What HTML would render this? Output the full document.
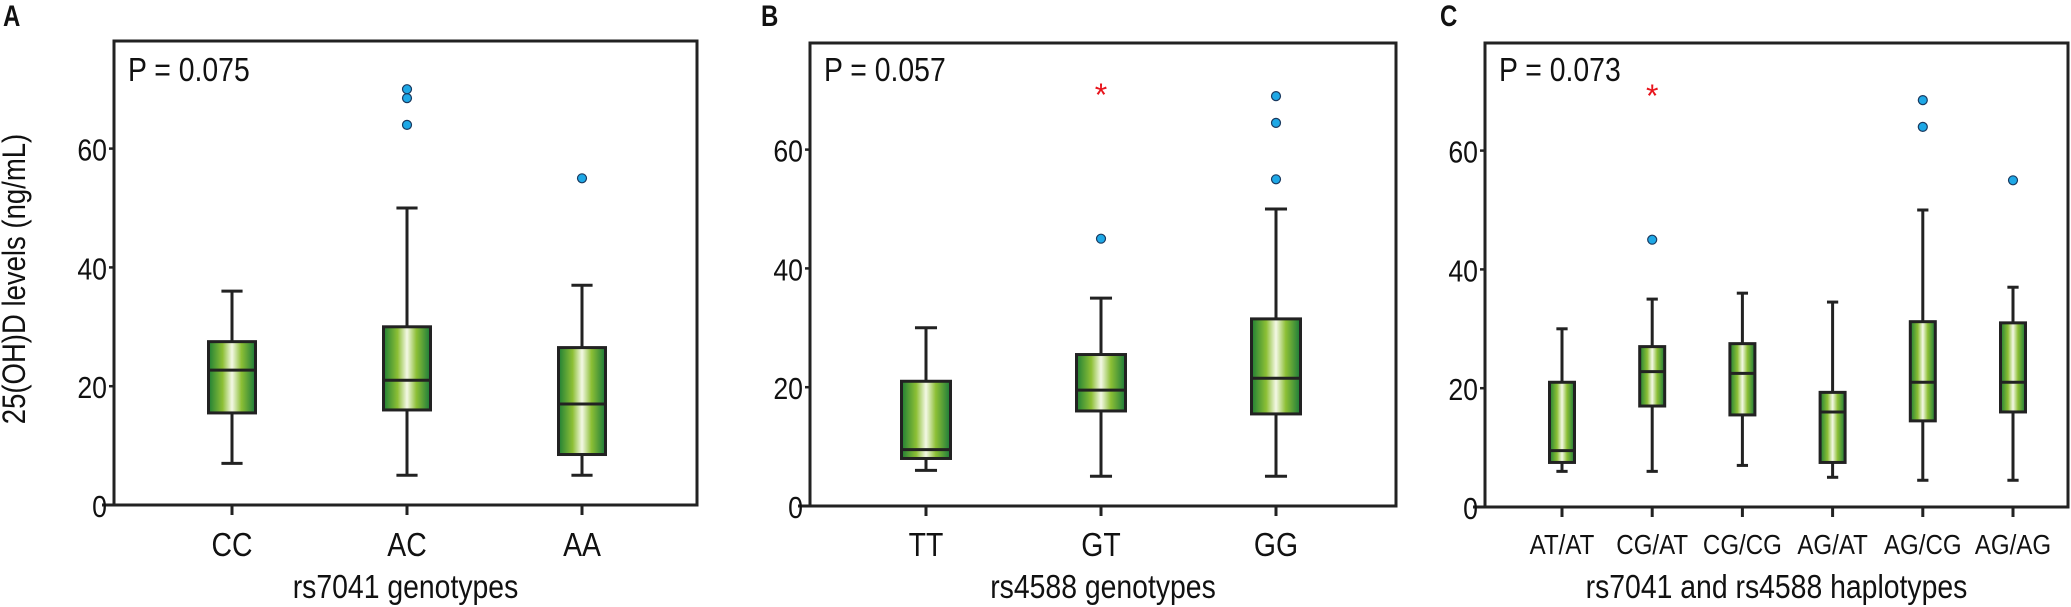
<!DOCTYPE html>
<html><head><meta charset="utf-8"><style>
html,body{margin:0;padding:0;background:#fff;}
svg{display:block;}
text{font-family:"Liberation Sans",sans-serif;}
</style></head><body>
<svg id="chart" width="2071" height="607" viewBox="0 0 2071 607" xmlns="http://www.w3.org/2000/svg">
<defs>
<linearGradient id="boxgrad" x1="0" x2="1" y1="0" y2="0">
<stop offset="0" stop-color="#1f7f35"/>
<stop offset="0.3" stop-color="#8cbf35"/>
<stop offset="0.5" stop-color="#f4f8e6"/>
<stop offset="0.7" stop-color="#8cbf35"/>
<stop offset="1" stop-color="#1a7a3a"/>
</linearGradient>
</defs>
</svg>
<script>
// Panel A data
const catsA = ["CC","AC","AA"];
const loA = [7, 5, 5];
const q1A = [15.5, 16, 8.5];
const medA = [22.7, 21, 17];
const q3A = [27.5, 30, 26.5];
const hiA = [36, 50, 37];
const outA = [[], [64, 68.5, 70], [55]];
// Panel B data
const catsB = ["TT","GT","GG"];
const loB = [6, 5, 5];
const q1B = [8, 16, 15.5];
const medB = [9.5, 19.5, 21.5];
const q3B = [21, 25.5, 31.5];
const hiB = [30, 35, 50];
const outB = [[], [45], [55, 64.5, 69]];
const starB = [null, 70, null];
// Panel C data
const catsC = ["AT/AT","CG/AT","CG/CG","AG/AT","AG/CG","AG/AG"];
const loC = [6, 6, 7, 5, 4.5, 4.5];
const q1C = [7.5, 17, 15.5, 7.5, 14.5, 16];
const medC = [9.5, 22.8, 22.5, 16, 21, 21];
const q3C = [21, 27, 27.5, 19.3, 31.2, 31];
const hiC = [30, 35, 36, 34.5, 50, 37];
const outC = [[], [45], [], [], [64, 68.5], [55]];
const starC = [null, 70, null, null, null, null];
const yTicks = [0, 20, 40, 60];

const NS = "http://www.w3.org/2000/svg";
const svg = document.getElementById('chart');
function el(tag, attrs, parent) {
  const e = document.createElementNS(NS, tag);
  for (const k in attrs) e.setAttribute(k, attrs[k]);
  (parent || svg).appendChild(e);
  return e;
}
function txt(x, y, s, size, anchor, parent, sx, weight, fill) {
  const g = el('g', {transform: `translate(${x},${y}) scale(${sx||0.86},1)`}, parent);
  const t = el('text', {x: 0, y: 0, 'font-size': size, 'text-anchor': anchor || 'middle'}, g);
  if (weight) t.setAttribute('font-weight', weight);
  t.style.fill = fill || '#111';
  t.textContent = s;
  return t;
}

function panel(cfg) {
  const g = el('g', {});
  
  
  const {L, R, T, B, cats, lo, q1, med, q3, hi, out, star, boxW, xs} = cfg;
  const yy = v => B - v * 5.94;
  const x = i => xs[0] + i * (xs[1] - xs[0]);
  const fr = el('rect', {x: L, y: T, width: R - L, height: B - T, fill: 'none', stroke: '#222', 'stroke-width': 3}, g);
  
  
  el('line', {x1: L - 12, x2: L, y1: B, y2: B, stroke: '#222', 'stroke-width': 3}, g);
  const lt = txt(cfg.letterX, 26, cfg.letter, 30, 'start', g, 0.8, 'bold');
  
  
  yTicks.forEach(v => {
    el('line', {x1: L - 5, x2: L, y1: yy(v), y2: yy(v), stroke: '#222', 'stroke-width': 2.5}, g);
    const t = txt(L - 7, yy(v) + 12, String(v), 31, 'end', g);
    
    
  });
  const p = txt(L + 14, 81, cfg.p, 33, 'start', g);
  
  
  cats.forEach((c, i) => {
    const cx = x(i);
    el('line', {x1: cx, x2: cx, y1: B, y2: B + 10, stroke: '#222', 'stroke-width': 3}, g);
    const lab = txt(cx, cfg.labY, c, cfg.labSize, 'middle', g);
    
    
    const bg = el('g', {}, g);
    
    
    const cap = boxW * 0.45;
    el('line', {x1: cx, x2: cx, y1: yy(hi[i]), y2: yy(lo[i]), stroke: '#222', 'stroke-width': 3}, bg);
    el('line', {x1: cx - cap / 2, x2: cx + cap / 2, y1: yy(hi[i]), y2: yy(hi[i]), stroke: '#222', 'stroke-width': 3}, bg);
    el('line', {x1: cx - cap / 2, x2: cx + cap / 2, y1: yy(lo[i]), y2: yy(lo[i]), stroke: '#222', 'stroke-width': 3}, bg);
    el('rect', {x: cx - boxW / 2, y: yy(q3[i]), width: boxW, height: yy(q1[i]) - yy(q3[i]), fill: 'url(#boxgrad)', stroke: '#222', 'stroke-width': 3}, bg);
    el('line', {x1: cx - boxW / 2, x2: cx + boxW / 2, y1: yy(med[i]), y2: yy(med[i]), stroke: '#222', 'stroke-width': 3}, bg);
    out[i].forEach(v => {
      const o = el('circle', {cx: cx, cy: yy(v), r: 4.5, fill: '#1ea8e6', stroke: '#1a3a60', 'stroke-width': 1.2}, g);
      
      
    });
    if (star && star[i] != null) {
      const s = txt(cx, yy(star[i]) + 16, '*', 32, 'middle', g, 1, 'normal', '#e8141c');
      
      
    }
  });
  const xt = txt((L + R) / 2, 598, cfg.xtitle, 33, 'middle', g);
  
  
}

panel({letter: 'A', letterX: 3, L: 114, R: 697, T: 41, B: 505, cats: catsA, lo: loA, q1: q1A, med: medA, q3: q3A, hi: hiA, out: outA, star: null, boxW: 47, xs: [232, 407], p: 'P = 0.075', xtitle: 'rs7041 genotypes', labY: 556, labSize: 33});
panel({letter: 'B', letterX: 761, L: 810, R: 1396, T: 43, B: 506, cats: catsB, lo: loB, q1: q1B, med: medB, q3: q3B, hi: hiB, out: outB, star: starB, boxW: 49, xs: [926, 1101], p: 'P = 0.057', xtitle: 'rs4588 genotypes', labY: 556, labSize: 33});
panel({letter: 'C', letterX: 1440, L: 1485, R: 2068, T: 43, B: 507, cats: catsC, lo: loC, q1: q1C, med: medC, q3: q3C, hi: hiC, out: outC, star: starC, boxW: 25, xs: [1562, 1652.2], p: 'P = 0.073', xtitle: 'rs7041 and rs4588 haplotypes', labY: 554, labSize: 28});

const yt = el('text', {x: 0, y: 0, 'font-size': 32, 'text-anchor': 'middle', transform: 'translate(25,279) rotate(-90) scale(0.86,1)'});
yt.style.fill = '#111';
yt.textContent = '25(OH)D levels (ng/mL)';


</script>
</body></html>
